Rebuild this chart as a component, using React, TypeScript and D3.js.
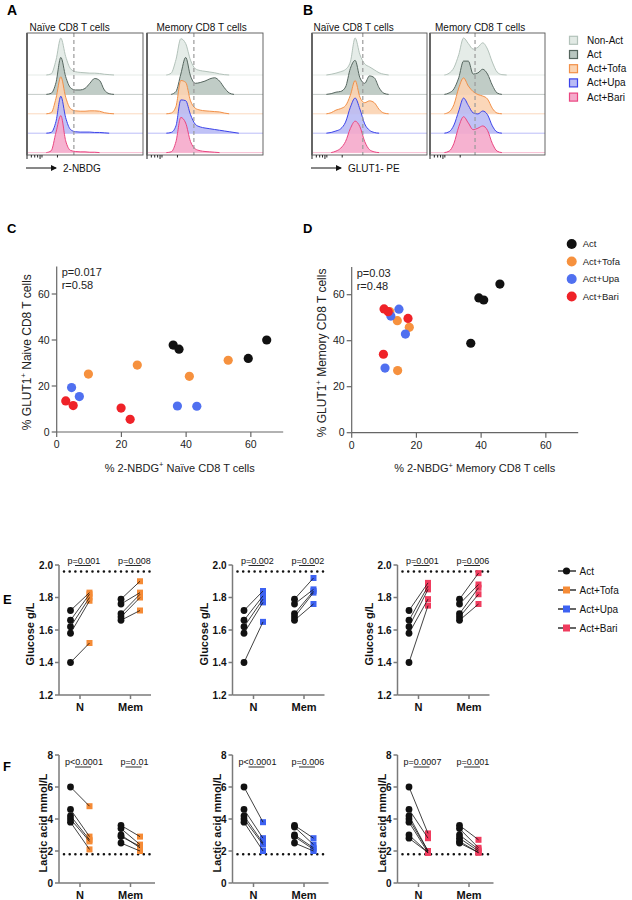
import React from "react";
import * as d3 from "d3";

const FONT = "'Liberation Sans', Arial, Helvetica, sans-serif";

// ---------- A / B : stacked histograms ----------
const histRows = ["Non-Act", "Act", "Act+Tofa", "Act+Upa", "Act+Bari"];
const histFill = ["#e2eae5", "#b9c6c0", "#fbd3b1", "#b9bbf5", "#f5aacb"];
const histLine = ["#b3c2ba", "#56665f", "#f29048", "#3b43ea", "#ea4681"];

// relative density in 25 bins along the fluorescence axis (1 = tallest peak)
const nbdgNaive = [
  [0, 0, 0, 0, 0, 0.03, 0.4, 1.0, 0.5, 0.17, 0.09, 0.07, 0.06, 0.05, 0.05, 0.04, 0.02, 0.01, 0, 0, 0, 0, 0, 0, 0],
  [0, 0, 0, 0, 0, 0.03, 0.32, 1.0, 0.48, 0.18, 0.12, 0.12, 0.16, 0.3, 0.43, 0.38, 0.12, 0.02, 0, 0, 0, 0, 0, 0, 0],
  [0, 0, 0, 0, 0, 0.03, 0.42, 1.0, 0.45, 0.14, 0.08, 0.07, 0.07, 0.08, 0.08, 0.07, 0.03, 0.01, 0, 0, 0, 0, 0, 0, 0],
  [0, 0, 0, 0, 0, 0.02, 0.32, 1.0, 0.42, 0.1, 0.04, 0.03, 0.03, 0.03, 0.02, 0.02, 0.01, 0, 0, 0, 0, 0, 0, 0, 0],
  [0, 0, 0, 0, 0, 0.05, 0.55, 1.0, 0.32, 0.06, 0.03, 0.02, 0.02, 0.01, 0.01, 0, 0, 0, 0, 0, 0, 0, 0, 0, 0],
];
const nbdgMemory = [
  [0, 0, 0, 0, 0, 0.05, 0.42, 0.98, 0.85, 0.4, 0.17, 0.12, 0.1, 0.08, 0.06, 0.03, 0.01, 0, 0, 0, 0, 0, 0, 0, 0],
  [0, 0, 0, 0, 0, 0, 0.08, 0.55, 1.0, 0.5, 0.3, 0.32, 0.36, 0.42, 0.45, 0.36, 0.18, 0.04, 0, 0, 0, 0, 0, 0, 0],
  [0, 0, 0, 0, 0, 0.02, 0.2, 0.9, 0.85, 0.35, 0.15, 0.1, 0.08, 0.07, 0.06, 0.05, 0.02, 0, 0, 0, 0, 0, 0, 0, 0],
  [0, 0, 0, 0, 0, 0.02, 0.2, 0.9, 0.88, 0.5, 0.24, 0.17, 0.14, 0.12, 0.1, 0.08, 0.06, 0.04, 0.02, 0, 0, 0, 0, 0, 0],
  [0, 0, 0, 0, 0, 0.02, 0.3, 0.95, 0.8, 0.3, 0.1, 0.05, 0.03, 0.02, 0.01, 0, 0, 0, 0, 0, 0, 0, 0, 0, 0],
];
const glutNaive = [
  [0, 0, 0, 0, 0.02, 0.05, 0.09, 0.15, 0.35, 1.0, 0.55, 0.3, 0.22, 0.14, 0.06, 0.02, 0, 0, 0, 0, 0, 0, 0, 0, 0],
  [0, 0, 0, 0, 0.02, 0.06, 0.08, 0.2, 0.7, 0.92, 0.45, 0.3, 0.5, 0.45, 0.18, 0.03, 0, 0, 0, 0, 0, 0, 0, 0, 0],
  [0, 0, 0, 0, 0.03, 0.1, 0.14, 0.22, 0.5, 0.9, 0.45, 0.3, 0.35, 0.3, 0.12, 0.02, 0, 0, 0, 0, 0, 0, 0, 0, 0],
  [0, 0, 0, 0, 0.02, 0.06, 0.12, 0.3, 0.7, 0.95, 0.65, 0.25, 0.08, 0.02, 0, 0, 0, 0, 0, 0, 0, 0, 0, 0, 0],
  [0, 0, 0, 0, 0, 0.04, 0.12, 0.3, 0.65, 0.85, 0.7, 0.3, 0.08, 0.02, 0, 0, 0, 0, 0, 0, 0, 0, 0, 0, 0],
];
const glutMemory = [
  [0, 0, 0, 0, 0.05, 0.2, 0.55, 1.0, 0.85, 0.7, 0.75, 0.87, 0.7, 0.35, 0.08, 0.01, 0, 0, 0, 0, 0, 0, 0, 0, 0],
  [0, 0, 0, 0, 0.04, 0.15, 0.45, 0.9, 0.9, 0.55, 0.58, 0.68, 0.55, 0.25, 0.04, 0, 0, 0, 0, 0, 0, 0, 0, 0, 0],
  [0, 0, 0, 0, 0.05, 0.25, 0.7, 0.97, 0.75, 0.6, 0.52, 0.48, 0.4, 0.15, 0.02, 0, 0, 0, 0, 0, 0, 0, 0, 0, 0],
  [0, 0, 0, 0, 0.04, 0.22, 0.6, 0.95, 0.75, 0.55, 0.52, 0.6, 0.5, 0.2, 0.03, 0, 0, 0, 0, 0, 0, 0, 0, 0, 0],
  [0, 0, 0, 0, 0.04, 0.25, 0.7, 0.97, 0.8, 0.62, 0.66, 0.72, 0.6, 0.25, 0.04, 0, 0, 0, 0, 0, 0, 0, 0, 0, 0],
];
const axisTickBins = [0, 0.9, 1.6, 2.2, 2.7, 3.1, 6.3];

// ---------- C / D : scatter ----------
const scatterGroups = ["Act", "Act+Tofa", "Act+Upa", "Act+Bari"];
const dotColors = ["#111111", "#f6913e", "#5070f0", "#ef2228"];
const scatterTicks = [0, 20, 40, 60];
// [% 2-NBDG+, % GLUT1+]
const naiveAct = [[36.0, 37.8], [37.8, 36.0], [59.2, 32.0], [64.9, 40.0]];
const naiveTofa = [[9.8, 25.2], [24.9, 29.1], [41.0, 24.2], [53.0, 31.2]];
const naiveUpa = [[4.6, 19.3], [7.0, 15.4], [37.3, 11.3], [43.3, 11.2]];
const naiveBari = [[2.8, 13.5], [5.1, 11.5], [19.9, 10.4], [22.7, 5.5]];
const memoryAct = [[39.3, 58.6], [40.8, 57.7], [36.8, 38.9], [45.8, 64.6]];
const memoryTofa = [[11.8, 52.6], [14.1, 48.7], [17.8, 45.8], [14.2, 27.0]];
const memoryUpa = [[14.6, 53.7], [12.1, 50.7], [16.6, 42.9], [10.3, 28.1]];
const memoryBari = [[10.0, 53.8], [11.3, 52.6], [17.4, 49.7], [9.8, 34.1]];

// ---------- E / F : paired Act vs Act+JAKi ----------
const pairGroups = ["N", "Mem"];
const pairColors = ["#f58b36", "#3d62f2", "#f03c5e"];
const pairLegend = ["Act", "Act+Tofa", "Act+Upa", "Act+Bari"];
const glucoseTicks = [1.2, 1.4, 1.6, 1.8, 2.0];
const lacticTicks = [0, 2, 4, 6, 8];
// [Act, Act+drug]
const gluTofaN = [[1.72, 1.83], [1.66, 1.82], [1.62, 1.8], [1.58, 1.78], [1.4, 1.52]];
const gluTofaMem = [[1.79, 1.9], [1.76, 1.83], [1.7, 1.82], [1.68, 1.8], [1.66, 1.72]];
const gluUpaN = [[1.72, 1.84], [1.66, 1.81], [1.62, 1.79], [1.58, 1.77], [1.4, 1.65]];
const gluUpaMem = [[1.79, 1.92], [1.76, 1.85], [1.7, 1.84], [1.68, 1.83], [1.66, 1.76]];
const gluBariN = [[1.72, 1.89], [1.66, 1.87], [1.62, 1.85], [1.58, 1.79], [1.4, 1.75]];
const gluBariMem = [[1.79, 1.95], [1.76, 1.88], [1.7, 1.86], [1.68, 1.82], [1.66, 1.76]];
const lacTofaN = [[6.0, 4.8], [4.6, 2.9], [4.2, 2.7], [4.0, 2.6], [3.8, 2.1]];
const lacTofaMem = [[3.6, 2.9], [3.4, 2.4], [3.0, 2.2], [2.9, 2.3], [2.5, 2.0]];
const lacUpaN = [[6.0, 3.8], [4.6, 2.8], [4.2, 2.5], [4.0, 2.4], [3.8, 2.0]];
const lacUpaMem = [[3.6, 2.8], [3.5, 2.4], [3.0, 2.2], [2.9, 2.1], [2.5, 2.0]];
const lacBariN = [[6.0, 3.1], [4.6, 2.8], [4.2, 2.0], [4.0, 2.0], [3.8, 1.9], [3.0, 1.9], [2.8, 1.9]];
const lacBariMem = [[3.6, 2.7], [3.4, 2.2], [3.0, 2.1], [2.8, 2.0], [2.6, 1.9], [2.5, 1.9]];
const glucoseP = [["p=0.001", "p=0.008"], ["p=0.002", "p=0.002"], ["p=0.001", "p=0.006"]];
const lacticP = [["p<0.0001", "p=0.01"], ["p<0.0001", "p=0.006"], ["p=0.0007", "p=0.001"]];
const glucoseRef = 1.96;
const lacticRef = 1.8;

// layout
const HIST_TOP = 33;
const HIST_BASE0 = 75;
const HIST_STEP = 19.4;
const HIST_PEAK = 37;
const HIST_BOTTOM = 155;
const PAIR_X0 = [59, 232.5, 397.5];

function Histo({ x0, x1, rows, dashBin }) {
  const x = d3.scaleLinear().domain([0, 24]).range([x0, x1]);
  return (
    <g>
      {rows.map((vals, r) => {
        const base = HIST_BASE0 + r * HIST_STEP;
        const nz = vals.map((v, i) => (v > 0 ? i : -1)).filter((i) => i >= 0);
        const lo = Math.max(0, nz[0] - 1);
        const hi = Math.min(vals.length - 1, nz[nz.length - 1] + 1);
        const area = d3.area().x((_, i) => x(i)).y0(base).y1((v) => base - v * HIST_PEAK).curve(d3.curveMonotoneX);
        const line = d3.line().defined((_, i) => i >= lo && i <= hi).x((_, i) => x(i)).y((v) => base - v * HIST_PEAK).curve(d3.curveMonotoneX);
        return (
          <g key={r}>
            <line x1={x0} x2={x1} y1={base} y2={base} stroke={histLine[r]} strokeOpacity={0.35} strokeWidth={1} />
            <path d={area(vals)} fill={histFill[r]} fillOpacity={0.9} />
            <path d={line(vals)} fill="none" stroke={histLine[r]} strokeWidth={1} />
          </g>
        );
      })}
      <line x1={x(dashBin)} x2={x(dashBin)} y1={HIST_TOP} y2={HIST_BOTTOM} stroke="#9a9a9a" strokeWidth={1.2} strokeDasharray="4,3" />
      <rect x={x0} y={HIST_TOP} width={x1 - x0} height={HIST_BOTTOM - HIST_TOP} fill="none" stroke="#555" strokeWidth={0.9} />
      <line x1={x0} x2={x0} y1={HIST_TOP} y2={HIST_BOTTOM} stroke="#666" strokeWidth={2} />
      {axisTickBins.map((b, i) => (
        <line key={i} x1={x(b)} x2={x(b)} y1={HIST_BOTTOM} y2={HIST_BOTTOM + (i === 0 || i === 4 ? 4 : 2.5)} stroke="#222" strokeWidth={1} />
      ))}
    </g>
  );
}

function Arrow({ x, y, label }) {
  return (
    <g>
      <line x1={x} x2={x + 30} y1={y} y2={y} stroke="#111" strokeWidth={1} />
      <path d={`M${x + 31},${y} l-6,-3 l0,6 z`} fill="#111" />
      <text x={x + 37} y={y + 3.5} fontSize={10} fill="#111">{label}</text>
    </g>
  );
}

function SupTitle({ pre, post, ...rest }) {
  return (
    <text {...rest}>
      <tspan>{pre}</tspan>
      <tspan dy={-4.5} fontSize={7.5}>+</tspan>
      <tspan dy={4.5}>{post}</tspan>
    </text>
  );
}

function Scatter({ x0, yBase, sets, pText, rText, xPre, xPost, yPre, yPost }) {
  const x = d3.scaleLinear().domain([0, 70]).range([x0, x0 + 226.5]);
  const y = d3.scaleLinear().domain([0, 72]).range([yBase, yBase - 165.6]);
  const ax = "#666";
  const yMid = y(36) + 3;
  return (
    <g>
      <line x1={x0} x2={x0} y1={y(0)} y2={y(72)} stroke={ax} strokeWidth={1.2} />
      <line x1={x0} x2={x(70)} y1={y(0)} y2={y(0)} stroke={ax} strokeWidth={1.2} />
      {scatterTicks.map((t) => (
        <g key={"y" + t}>
          <line x1={x0 - 5} x2={x0} y1={y(t)} y2={y(t)} stroke={ax} strokeWidth={1.2} />
          <text x={x0 - 7} y={y(t)} dy="0.35em" textAnchor="end" fontSize={10.5} fill="#222">{t}</text>
        </g>
      ))}
      {scatterTicks.map((t) => (
        <g key={"x" + t}>
          <line x1={x(t)} x2={x(t)} y1={y(0)} y2={y(0) + 5} stroke={ax} strokeWidth={1.2} />
          <text x={x(t)} y={y(0) + 16} textAnchor="middle" fontSize={10.5} fill="#222">{t}</text>
        </g>
      ))}
      <text x={x0 + 5} y={y(72) + 9.5} fontSize={11} fill="#222">{pText}</text>
      <text x={x0 + 5} y={y(72) + 22.5} fontSize={11} fill="#222">{rText}</text>
      <SupTitle pre={xPre} post={xPost} x={x0 + 123} y={yBase + 39.5} textAnchor="middle" fontSize={11} fill="#222" />
      <SupTitle pre={yPre} post={yPost} transform={`translate(${x0 - 26},${yMid}) rotate(-90)`} textAnchor="middle" fontSize={12} fill="#222" />
      {sets.map((pts, g) =>
        pts.map((p, i) => <circle key={g + "-" + i} cx={x(p[0])} cy={y(p[1])} r={4.6} fill={dotColors[g]} />)
      )}
    </g>
  );
}

function PairPlot({ x0, yTop, yBot, domain, ticks, fmt, nPairs, memPairs, color, refVal, pTexts, pY, label, labelX, xLen }) {
  const xs = d3.scalePoint().domain(pairGroups).range([x0 + 21, x0 + 71.5]);
  const y = d3.scaleLinear().domain(domain).range([yBot, yTop]);
  const ax = "#7a7a7a";
  const sets = [nPairs, memPairs];
  const off = 9.5;
  const sq = 6;
  return (
    <g>
      <line x1={x0} x2={x0} y1={yTop} y2={yBot} stroke={ax} strokeWidth={1.5} />
      <line x1={x0} x2={x0 + xLen} y1={yBot} y2={yBot} stroke={ax} strokeWidth={1.5} />
      {ticks.map((t) => (
        <g key={t}>
          <line x1={x0 - 4} x2={x0} y1={y(t)} y2={y(t)} stroke={ax} strokeWidth={1.5} />
          <text x={x0 - 6} y={y(t)} dy="0.35em" textAnchor="end" fontSize={10} fontWeight="bold" fill="#111">{fmt(t)}</text>
        </g>
      ))}
      {pairGroups.map((g) => (
        <g key={g}>
          <line x1={xs(g)} x2={xs(g)} y1={yBot} y2={yBot + 4} stroke={ax} strokeWidth={1.5} />
          <text x={xs(g)} y={yBot + 16} textAnchor="middle" fontSize={11} fontWeight="bold" fill="#111">{g}</text>
        </g>
      ))}
      <line x1={x0 + 5} x2={x0 + 95} y1={y(refVal)} y2={y(refVal)} stroke="#111" strokeWidth={2.6} strokeLinecap="round" strokeDasharray="0,5.7" />
      <text transform={`translate(${labelX},${(yTop + yBot) / 2 + 4}) rotate(-90)`} textAnchor="middle" fontSize={11} fontWeight="bold" fill="#111">{label}</text>
      {pairGroups.map((g, k) => (
        <g key={"p" + g}>
          <text x={xs(g) + 4} y={pY} textAnchor="middle" fontSize={9} fill="#111">{pTexts[k]}</text>
          <line x1={xs(g) - 5} x2={xs(g) + 11} y1={pY + 2} y2={pY + 2} stroke="#111" strokeWidth={0.9} />
        </g>
      ))}
      {sets.map((pairs, k) => {
        const cx = xs(pairGroups[k]);
        return (
          <g key={"d" + k}>
            {pairs.map((p, i) => (
              <circle key={"a" + i} cx={cx - off} cy={y(p[0])} r={3.4} fill="#111" />
            ))}
            {pairs.map((p, i) => (
              <rect key={"b" + i} x={cx + off - sq / 2} y={y(p[1]) - sq / 2} width={sq} height={sq} fill={color} />
            ))}
            {pairs.map((p, i) => (
              <line key={"l" + i} x1={cx - off} x2={cx + off} y1={y(p[0])} y2={y(p[1])} stroke="#111" strokeWidth={0.8} />
            ))}
          </g>
        );
      })}
    </g>
  );
}

export default function App() {
  const gluSets = [[gluTofaN, gluTofaMem], [gluUpaN, gluUpaMem], [gluBariN, gluBariMem]];
  const lacSets = [[lacTofaN, lacTofaMem], [lacUpaN, lacUpaMem], [lacBariN, lacBariMem]];
  const f1 = d3.format(".1f");
  const f0 = d3.format("d");
  return (
    <svg width={632} height={900} style={{ position: "absolute", left: 0, top: 0, background: "#fff" }} fontFamily={FONT}>
      {/* panel letters */}
      <text x={7} y={15} fontSize={14} fontWeight="bold">A</text>
      <text x={303} y={15} fontSize={14} fontWeight="bold">B</text>
      <text x={7} y={233} fontSize={13} fontWeight="bold">C</text>
      <text x={303} y={233} fontSize={13} fontWeight="bold">D</text>
      <text x={3} y={604} fontSize={13} fontWeight="bold">E</text>
      <text x={3} y={771} fontSize={13} fontWeight="bold">F</text>

      {/* A */}
      <text x={29.5} y={30.5} fontSize={10} fill="#111">Naïve CD8 T cells</text>
      <text x={156.5} y={30.5} fontSize={10} fill="#111">Memory CD8 T cells</text>
      <Histo x0={27} x1={143} rows={nbdgNaive} dashBin={9.7} />
      <Histo x0={147} x1={263} rows={nbdgMemory} dashBin={9.7} />
      <Arrow x={26} y={168} label="2-NBDG" />

      {/* B */}
      <text x={313.5} y={30.5} fontSize={10} fill="#111">Naïve CD8 T cells</text>
      <text x={435} y={30.5} fontSize={10} fill="#111">Memory CD8 T cells</text>
      <Histo x0={312} x1={427} rows={glutNaive} dashBin={10.6} />
      <Histo x0={430} x1={545} rows={glutMemory} dashBin={9.4} />
      <Arrow x={311} y={168} label="GLUT1- PE" />
      {histRows.map((name, r) => (
        <g key={name}>
          <rect x={569.5} y={36.3 + r * 14.2} width={8} height={8} fill={histFill[r]} stroke={histLine[r]} strokeWidth={1.2} />
          <text x={587} y={43.8 + r * 14.2} fontSize={10} fill="#111">{name}</text>
        </g>
      ))}

      {/* C & D */}
      <Scatter x0={56.7} yBase={432} sets={[naiveAct, naiveTofa, naiveUpa, naiveBari]} pText="p=0.017" rText="r=0.58"
        xPre="% 2-NBDG" xPost=" Naïve CD8 T cells" yPre="% GLUT1" yPost=" Naive CD8 T cells" />
      <Scatter x0={351.7} yBase={432.7} sets={[memoryAct, memoryTofa, memoryUpa, memoryBari]} pText="p=0.03" rText="r=0.48"
        xPre="% 2-NBDG" xPost=" Memory CD8 T cells" yPre="% GLUT1" yPost=" Memory CD8 T cells" />
      {scatterGroups.map((g, i) => (
        <g key={g}>
          <circle cx={571.7} cy={244 + i * 17.5} r={5} fill={dotColors[i]} />
          <text x={582.7} y={244 + i * 17.5} dy="0.35em" fontSize={9.5} fill="#222">{g}</text>
        </g>
      ))}

      {/* E */}
      {PAIR_X0.map((x0, k) => (
        <PairPlot key={"e" + k} x0={x0} yTop={565} yBot={695} domain={[1.2, 2.0]} ticks={glucoseTicks} fmt={f1}
          nPairs={gluSets[k][0]} memPairs={gluSets[k][1]} color={pairColors[k]} refVal={glucoseRef}
          pTexts={glucoseP[k]} pY={563.5} label="Glucose g/L" labelX={x0 - 25} xLen={92} />
      ))}
      {pairLegend.map((g, i) => (
        <g key={g}>
          <line x1={558} x2={576} y1={571 + i * 19} y2={571 + i * 19} stroke="#111" strokeWidth={1.3} />
          {i === 0 ? (
            <circle cx={566.5} cy={571} r={3.6} fill="#111" />
          ) : (
            <rect x={563} y={567.5 + i * 19} width={7} height={7} fill={pairColors[i - 1]} />
          )}
          <text x={579.5} y={571 + i * 19} dy="0.35em" fontSize={10} fill="#111">{g}</text>
        </g>
      ))}

      {/* F */}
      {PAIR_X0.map((x0, k) => (
        <PairPlot key={"f" + k} x0={x0} yTop={755} yBot={883} domain={[0, 8]} ticks={lacticTicks} fmt={f0}
          nPairs={lacSets[k][0]} memPairs={lacSets[k][1]} color={pairColors[k]} refVal={lacticRef}
          pTexts={lacticP[k]} pY={765} label="Lactic acid mmol/L" labelX={x0 - 12} xLen={96} />
      ))}
    </svg>
  );
}
